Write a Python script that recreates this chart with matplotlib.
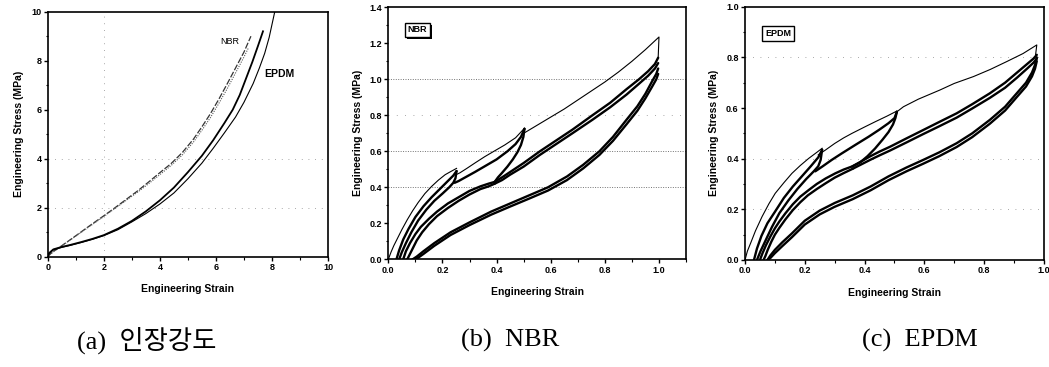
import matplotlib.pyplot as plt
import matplotlib.patheffects as pe
from matplotlib.ticker import MultipleLocator

# ---- (a) tensile curves ----
nbr_x = [0, 0.1, 0.25, 0.5, 0.8, 1.2, 1.6, 2.0, 2.4, 2.8, 3.2, 3.6, 4.0, 4.4, 4.8, 5.2, 5.5, 5.8, 6.1, 6.4, 6.7, 7.0, 7.25]
nbr_y = [0, 0.12, 0.25, 0.45, 0.69, 1.02, 1.35, 1.67, 2.0, 2.34, 2.68, 3.05, 3.43, 3.8, 4.25, 4.8, 5.3, 5.83, 6.42, 7.05, 7.7, 8.35, 9.0]
nbr2_x = [0, 0.1, 0.25, 0.5, 0.8, 1.2, 1.6, 2.0, 2.4, 2.8, 3.2, 3.6, 4.0, 4.4, 4.8, 5.2, 5.5, 5.8, 6.1, 6.4, 6.7, 7.0, 7.15]
nbr2_y = [0, 0.11, 0.24, 0.44, 0.68, 1.0, 1.32, 1.64, 1.97, 2.3, 2.63, 2.98, 3.35, 3.72, 4.15, 4.68, 5.16, 5.67, 6.25, 6.85, 7.5, 8.15, 8.5]
epdm1_x = [0, 0.05, 0.2, 0.5, 0.8, 1.2, 1.6, 2.0, 2.5, 3.0, 3.5, 4.0, 4.5, 5.0, 5.5, 5.9, 6.3, 6.6, 6.85, 7.1, 7.3, 7.5, 7.68]
epdm1_y = [0, 0.15, 0.3, 0.4, 0.48, 0.6, 0.73, 0.88, 1.14, 1.46, 1.85, 2.3, 2.82, 3.45, 4.12, 4.75, 5.45, 6.0, 6.6, 7.35, 7.95, 8.6, 9.2]
epdm2_x = [0, 0.05, 0.2, 0.5, 0.8, 1.2, 1.6, 2.0, 2.5, 3.0, 3.5, 4.0, 4.5, 5.0, 5.5, 5.9, 6.3, 6.7, 7.0, 7.33, 7.55, 7.74, 7.9, 8.1]
epdm2_y = [0, 0.13, 0.28, 0.38, 0.46, 0.58, 0.71, 0.86, 1.1, 1.42, 1.76, 2.15, 2.6, 3.18, 3.82, 4.42, 5.05, 5.7, 6.3, 7.07, 7.7, 8.3, 8.95, 10.0]

# ---- (b) NBR cyclic loading ----
nbr_v1_x = [0, 0.01, 0.02, 0.035, 0.05, 0.07, 0.09, 0.11, 0.135, 0.16, 0.185, 0.21, 0.23, 0.252]
nbr_v1_y = [0, 0.04, 0.075, 0.12, 0.165, 0.22, 0.27, 0.315, 0.365, 0.405, 0.44, 0.47, 0.487, 0.505]
nbr_v2_x = [0.25, 0.264, 0.29, 0.32, 0.356, 0.39, 0.43, 0.47, 0.503]
nbr_v2_y = [0.47, 0.48, 0.505, 0.535, 0.57, 0.60, 0.635, 0.675, 0.728]
nbr_v3_x = [0.50, 0.55, 0.60, 0.65, 0.70, 0.75, 0.80, 0.85, 0.90, 0.95, 1.0, 0.997]
nbr_v3_y = [0.70, 0.745, 0.79, 0.835, 0.885, 0.935, 0.985, 1.04, 1.1, 1.165, 1.235, 1.12]
nbr_a_load_x = [0.03, 0.04, 0.055, 0.075, 0.10, 0.13, 0.16, 0.19, 0.22, 0.24, 0.252]
nbr_a_load_y = [0, 0.05, 0.11, 0.17, 0.235, 0.295, 0.345, 0.39, 0.435, 0.465, 0.49]
nbr_a_unload_x = [0.252, 0.248, 0.24, 0.225, 0.20, 0.17, 0.14, 0.11, 0.085, 0.065, 0.05, 0.04]
nbr_a_unload_y = [0.49, 0.45, 0.425, 0.40, 0.365, 0.325, 0.275, 0.215, 0.15, 0.09, 0.04, 0]
nbr_b_load_x = [0.245, 0.26, 0.29, 0.32, 0.36, 0.40, 0.44, 0.47, 0.49, 0.503]
nbr_b_load_y = [0.425, 0.435, 0.46, 0.485, 0.52, 0.555, 0.60, 0.64, 0.68, 0.725]
nbr_b_unload_x = [0.503, 0.499, 0.49, 0.477, 0.46, 0.44, 0.42, 0.405, 0.393]
nbr_b_unload_y = [0.725, 0.68, 0.635, 0.595, 0.555, 0.515, 0.48, 0.455, 0.43]
nbr_bc1_x = [0.393, 0.37, 0.34, 0.30, 0.26, 0.22, 0.18, 0.15, 0.12, 0.10, 0.08, 0.065, 0.055]
nbr_bc1_y = [0.43, 0.42, 0.405, 0.38, 0.345, 0.31, 0.265, 0.225, 0.18, 0.14, 0.09, 0.045, 0]
nbr_bc2_x = [0.393, 0.37, 0.34, 0.30, 0.26, 0.22, 0.18, 0.15, 0.125, 0.105, 0.09, 0.08, 0.07]
nbr_bc2_y = [0.42, 0.405, 0.39, 0.36, 0.325, 0.285, 0.24, 0.195, 0.15, 0.105, 0.06, 0.03, 0]
nbr_c_x = [0.393, 0.42, 0.45, 0.50, 0.56, 0.62, 0.68, 0.754, 0.82, 0.88, 0.926, 0.96, 0.985, 0.997]
nbr_c1_y = [0.43, 0.455, 0.485, 0.535, 0.60, 0.66, 0.72, 0.80, 0.87, 0.945, 1.0, 1.045, 1.085, 1.12]
nbr_c2_y = [0.42, 0.44, 0.47, 0.515, 0.58, 0.64, 0.70, 0.775, 0.845, 0.915, 0.975, 1.02, 1.06, 1.09]
nbr_d_x = [0.997, 0.99, 0.975, 0.95, 0.92, 0.88, 0.83, 0.78, 0.72, 0.66, 0.59, 0.52, 0.45, 0.38, 0.30, 0.23, 0.17, 0.13, 0.105, 0.09]
nbr_d1_y = [1.06, 1.03, 0.99, 0.92, 0.85, 0.775, 0.68, 0.60, 0.525, 0.46, 0.40, 0.355, 0.31, 0.265, 0.205, 0.15, 0.09, 0.045, 0.015, 0]
nbr_d2_y = [1.03, 1.0, 0.96, 0.895, 0.825, 0.75, 0.658, 0.58, 0.505, 0.44, 0.382, 0.337, 0.293, 0.248, 0.19, 0.135, 0.075, 0.03, 0.003, 0]

# ---- (c) EPDM cyclic loading ----
epdm_v1_x = [0, 0.008, 0.02, 0.035, 0.057, 0.08, 0.101, 0.13, 0.157, 0.185, 0.213, 0.238, 0.258]
epdm_v1_y = [0, 0.035, 0.07, 0.115, 0.171, 0.222, 0.263, 0.305, 0.342, 0.373, 0.401, 0.423, 0.441]
epdm_v2_x = [0.245, 0.269, 0.30, 0.33, 0.358, 0.40, 0.436, 0.475, 0.508]
epdm_v2_y = [0.415, 0.434, 0.46, 0.482, 0.5, 0.525, 0.546, 0.568, 0.588]
epdm_v3_x = [0.508, 0.53, 0.58, 0.652, 0.70, 0.764, 0.82, 0.875, 0.93, 0.976, 0.972]
epdm_v3_y = [0.585, 0.605, 0.635, 0.671, 0.697, 0.724, 0.752, 0.783, 0.815, 0.849, 0.81]
epdm_a_load_x = [0.03, 0.04, 0.055, 0.075, 0.10, 0.13, 0.16, 0.19, 0.22, 0.245, 0.258]
epdm_a_load_y = [0, 0.045, 0.095, 0.145, 0.19, 0.245, 0.29, 0.33, 0.37, 0.405, 0.435]
epdm_a_unload_x = [0.258, 0.253, 0.245, 0.23, 0.205, 0.175, 0.145, 0.115, 0.09, 0.07, 0.052, 0.04]
epdm_a_unload_y = [0.435, 0.395, 0.37, 0.35, 0.32, 0.28, 0.235, 0.185, 0.13, 0.08, 0.035, 0]
epdm_b_load_x = [0.235, 0.26, 0.29, 0.324, 0.37, 0.414, 0.45, 0.48, 0.50, 0.508]
epdm_b_load_y = [0.35, 0.37, 0.395, 0.421, 0.455, 0.487, 0.515, 0.54, 0.56, 0.585]
epdm_b_unload_x = [0.508, 0.503, 0.495, 0.48, 0.46, 0.435, 0.41, 0.385, 0.36]
epdm_b_unload_y = [0.585, 0.56, 0.535, 0.505, 0.475, 0.44, 0.41, 0.385, 0.37]
epdm_bc1_x = [0.36, 0.33, 0.302, 0.27, 0.24, 0.213, 0.185, 0.16, 0.135, 0.115, 0.10, 0.085, 0.07, 0.058, 0.05]
epdm_bc1_y = [0.37, 0.357, 0.342, 0.322, 0.30, 0.276, 0.25, 0.22, 0.184, 0.152, 0.125, 0.093, 0.058, 0.025, 0]
epdm_bc2_x = [0.36, 0.33, 0.30, 0.27, 0.24, 0.21, 0.185, 0.16, 0.135, 0.115, 0.10, 0.088, 0.076, 0.068, 0.062]
epdm_bc2_y = [0.36, 0.343, 0.325, 0.303, 0.28, 0.255, 0.228, 0.197, 0.16, 0.127, 0.10, 0.072, 0.04, 0.015, 0]
epdm_c_x = [0.36, 0.39, 0.42, 0.45, 0.485, 0.54, 0.596, 0.65, 0.708, 0.76, 0.819, 0.87, 0.91, 0.945, 0.965, 0.976]
epdm_c1_y = [0.37, 0.39, 0.41, 0.428, 0.447, 0.48, 0.513, 0.545, 0.579, 0.615, 0.658, 0.70, 0.74, 0.775, 0.795, 0.81]
epdm_c2_y = [0.36, 0.378, 0.396, 0.413, 0.432, 0.464, 0.497, 0.528, 0.562, 0.598, 0.64, 0.68, 0.72, 0.757, 0.779, 0.795]
epdm_d_x = [0.976, 0.97, 0.96, 0.94, 0.909, 0.87, 0.819, 0.76, 0.708, 0.65, 0.596, 0.54, 0.48, 0.42, 0.36, 0.30, 0.25, 0.20, 0.157, 0.125, 0.10, 0.085, 0.075]
epdm_d1_y = [0.80, 0.77, 0.74, 0.70, 0.658, 0.605, 0.553, 0.50, 0.461, 0.425, 0.395, 0.365, 0.33, 0.29, 0.255, 0.225, 0.195, 0.155, 0.105, 0.07, 0.04, 0.018, 0]
epdm_d2_y = [0.785, 0.755, 0.725, 0.685, 0.643, 0.59, 0.538, 0.485, 0.446, 0.41, 0.38, 0.35, 0.315, 0.275, 0.24, 0.21, 0.18, 0.14, 0.09, 0.055, 0.027, 0.008, 0]

captions = ["(a)  인장강도", "(b)  NBR", "(c)  EPDM"]

plt.rcParams["font.family"] = ["Liberation Sans", "DejaVu Sans"]
plt.rcParams["font.weight"] = "bold"

THIN = 0.8
BAND = 1.7


def style_axes(ax, xlim, ylim, xmajor, ymajor, xfmt, yfmt):
    ax.set_xlim(*xlim)
    ax.set_ylim(*ylim)
    ax.xaxis.set_major_locator(MultipleLocator(xmajor))
    ax.yaxis.set_major_locator(MultipleLocator(ymajor))
    ax.xaxis.set_minor_locator(MultipleLocator(xmajor / 2))
    ax.yaxis.set_minor_locator(MultipleLocator(ymajor / 2))
    ax.xaxis.set_major_formatter(xfmt)
    ax.yaxis.set_major_formatter(yfmt)
    ax.tick_params(which="major", direction="out", length=3, width=1, labelsize=6.5, pad=1.5)
    ax.tick_params(which="minor", direction="out", length=1.8, width=0.8)
    for sp in ax.spines.values():
        sp.set_linewidth(1.2)
    ax.set_xlabel("Engineering Strain", fontsize=7.5, fontweight="bold", labelpad=9)
    ax.set_ylabel("Engineering Stress (MPa)", fontsize=7.5, fontweight="bold", labelpad=5)


def draw_bands(ax, bands):
    for xs, ys in bands:
        ax.plot(xs, ys, color="black", lw=BAND, solid_joinstyle="round", solid_capstyle="round")


fig = plt.figure(figsize=(10.49, 3.67), dpi=100)

# (a)
ax_a = fig.add_axes([0.0455, 0.3005, 0.2672, 0.6676])
for yv in (2, 4):
    ax_a.axhline(yv, color="0.55", lw=0.6, ls=(0, (1, 7)))
ax_a.axvline(2, color="0.55", lw=0.6, ls=(0, (1, 7)))
ax_a.plot(nbr_x, nbr_y, color="0.2", lw=0.9, ls=(0, (5, 1.5)))
ax_a.plot(nbr2_x, nbr2_y, color="0.35", lw=0.8, ls=(0, (1, 1.2)))
ax_a.plot(epdm1_x, epdm1_y, color="black", lw=1.3)
ax_a.plot(epdm2_x, epdm2_y, color="black", lw=0.8)
ax_a.text(6.5, 8.77, "NBR", fontsize=6.5, ha="center", va="center", fontweight="normal")
ax_a.text(8.25, 7.46, "EPDM", fontsize=7.5, ha="center", va="center", fontweight="bold")
style_axes(ax_a, (0, 10), (0, 10), 2, 2, "{x:.0f}", "{x:.0f}")
ax_a.xaxis.set_minor_locator(MultipleLocator(1))
ax_a.yaxis.set_minor_locator(MultipleLocator(1))

# (b)
ax_b = fig.add_axes([0.3702, 0.2935, 0.2838, 0.6866])
for yv in (0.4, 0.6, 1.0):
    ax_b.axhline(yv, color="0.45", lw=0.7, ls=(0, (1, 1.5)))
ax_b.axhline(0.8, color="0.55", lw=0.6, ls=(0, (1, 9)))
ax_b.plot(nbr_v1_x, nbr_v1_y, color="black", lw=THIN)
ax_b.plot(nbr_v2_x, nbr_v2_y, color="black", lw=THIN)
ax_b.plot(nbr_v3_x, nbr_v3_y, color="black", lw=THIN)
draw_bands(ax_b, [
    (nbr_a_load_x, nbr_a_load_y),
    (nbr_a_unload_x, nbr_a_unload_y),
    (nbr_b_load_x, nbr_b_load_y),
    (nbr_b_unload_x, nbr_b_unload_y),
    (nbr_bc1_x, nbr_bc1_y),
    (nbr_bc2_x, nbr_bc2_y),
    (nbr_c_x, nbr_c1_y),
    (nbr_c_x, nbr_c2_y),
    (nbr_d_x, nbr_d1_y),
    (nbr_d_x, nbr_d2_y),
])
t = ax_b.text(0.098, 0.91, "NBR", transform=ax_b.transAxes, fontsize=6.5,
              fontweight="bold", ha="center", va="center",
              bbox=dict(boxstyle="square,pad=0.3", fc="white", ec="black", lw=1))
t.get_bbox_patch().set_path_effects([
    pe.SimplePatchShadow(offset=(1.5, -1.5), shadow_rgbFace="black", alpha=1),
    pe.Normal(),
])
style_axes(ax_b, (0, 1.1), (0, 1.4), 0.2, 0.2, "{x:.1f}", "{x:.1f}")

# (c)
ax_c = fig.add_axes([0.7102, 0.2916, 0.2850, 0.6902])
for yv in (0.2, 0.4, 0.8):
    ax_c.axhline(yv, color="0.55", lw=0.6, ls=(0, (1, 8)))
ax_c.plot(epdm_v1_x, epdm_v1_y, color="black", lw=THIN)
ax_c.plot(epdm_v2_x, epdm_v2_y, color="black", lw=THIN)
ax_c.plot(epdm_v3_x, epdm_v3_y, color="black", lw=THIN)
draw_bands(ax_c, [
    (epdm_a_load_x, epdm_a_load_y),
    (epdm_a_unload_x, epdm_a_unload_y),
    (epdm_b_load_x, epdm_b_load_y),
    (epdm_b_unload_x, epdm_b_unload_y),
    (epdm_bc1_x, epdm_bc1_y),
    (epdm_bc2_x, epdm_bc2_y),
    (epdm_c_x, epdm_c1_y),
    (epdm_c_x, epdm_c2_y),
    (epdm_d_x, epdm_d1_y),
    (epdm_d_x, epdm_d2_y),
])
ax_c.text(0.11, 0.894, "EPDM", transform=ax_c.transAxes, fontsize=6.5,
          fontweight="bold", ha="center", va="center",
          bbox=dict(boxstyle="square,pad=0.3", fc="white", ec="black", lw=1))
style_axes(ax_c, (0, 1.0), (0, 1.0), 0.2, 0.2, "{x:.1f}", "{x:.1f}")

# captions
for xc, cap in zip([147, 510, 920], captions):
    fig.text(xc / 1049, 1 - 340 / 367, cap, fontsize=19, ha="center", va="center",
             family=["Liberation Serif", "Noto Sans CJK KR"], fontweight="normal")

fig.savefig("out.png", dpi=100)
